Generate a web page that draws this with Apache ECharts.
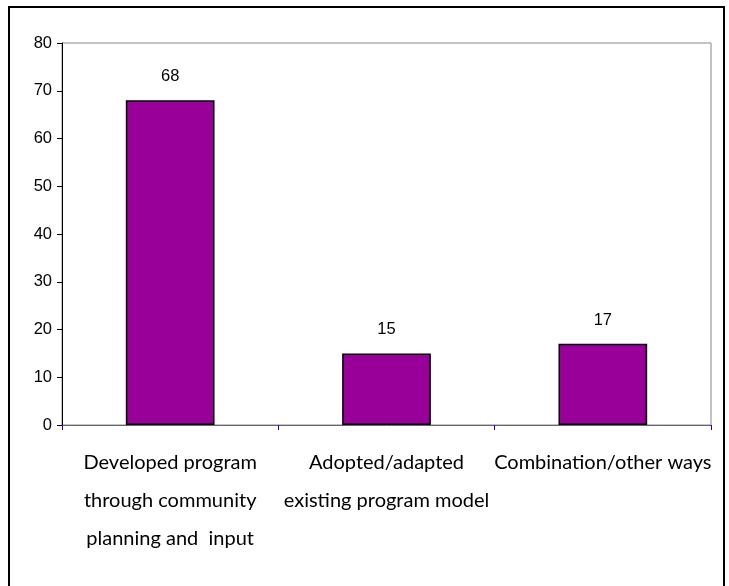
<!DOCTYPE html>
<html>
<head>
<meta charset="utf-8">
<script src="https://cdn.jsdelivr.net/npm/echarts@6/dist/echarts.min.js"></script>
<style>html,body{margin:0;padding:0;background:#fff;}#c{width:729px;height:586px;}</style>
</head>
<body>
<div id="c"></div>
<script>
const categories = ["Developed program\nthrough community\nplanning and  input", "Adopted/adapted\nexisting program model", "Combination/other ways"];
const values = [68, 15, 17];
const yTicks = {min: 0, max: 80, interval: 10};

const chart = echarts.init(document.getElementById('c'), null, {renderer: 'canvas'});
chart.setOption({
  animation: false,
  backgroundColor: '#fff',
  graphic: [{
    type: 'rect', silent: true,
    shape: {x: 9, y: 7, width: 715, height: 620},
    style: {fill: 'none', stroke: '#000', lineWidth: 2}
  }],
  grid: {left: 62, top: 43, right: 18, bottom: 161, show: true, borderColor: '#888', borderWidth: 1, backgroundColor: 'transparent'},
  xAxis: {
    type: 'category',
    data: categories,
    axisLine: {lineStyle: {color: '#666', width: 1}},
    axisTick: {show: true, length: 5, lineStyle: {color: '#0000ff'}},
    axisLabel: {fontFamily: 'Lato', fontSize: 20, color: '#000', lineHeight: 38, margin: 19, interval: 0}
  },
  yAxis: {
    type: 'value',
    min: yTicks.min, max: yTicks.max, interval: yTicks.interval,
    splitLine: {show: false},
    axisLine: {show: true, lineStyle: {color: '#000', width: 1}},
    axisTick: {show: true, length: 5, lineStyle: {color: '#000'}},
    axisLabel: {fontFamily: 'Liberation Sans', fontSize: 16.5, color: '#000', margin: 10}
  },
  series: [{
    type: 'bar',
    data: values,
    barWidth: '41%',
    itemStyle: {color: '#990099', borderColor: '#000', borderWidth: 1.5},
    label: {show: true, position: 'top', distance: 15, fontFamily: 'Liberation Sans', fontSize: 16.5, color: '#000'}
  }]
});
</script>
</body>
</html>
